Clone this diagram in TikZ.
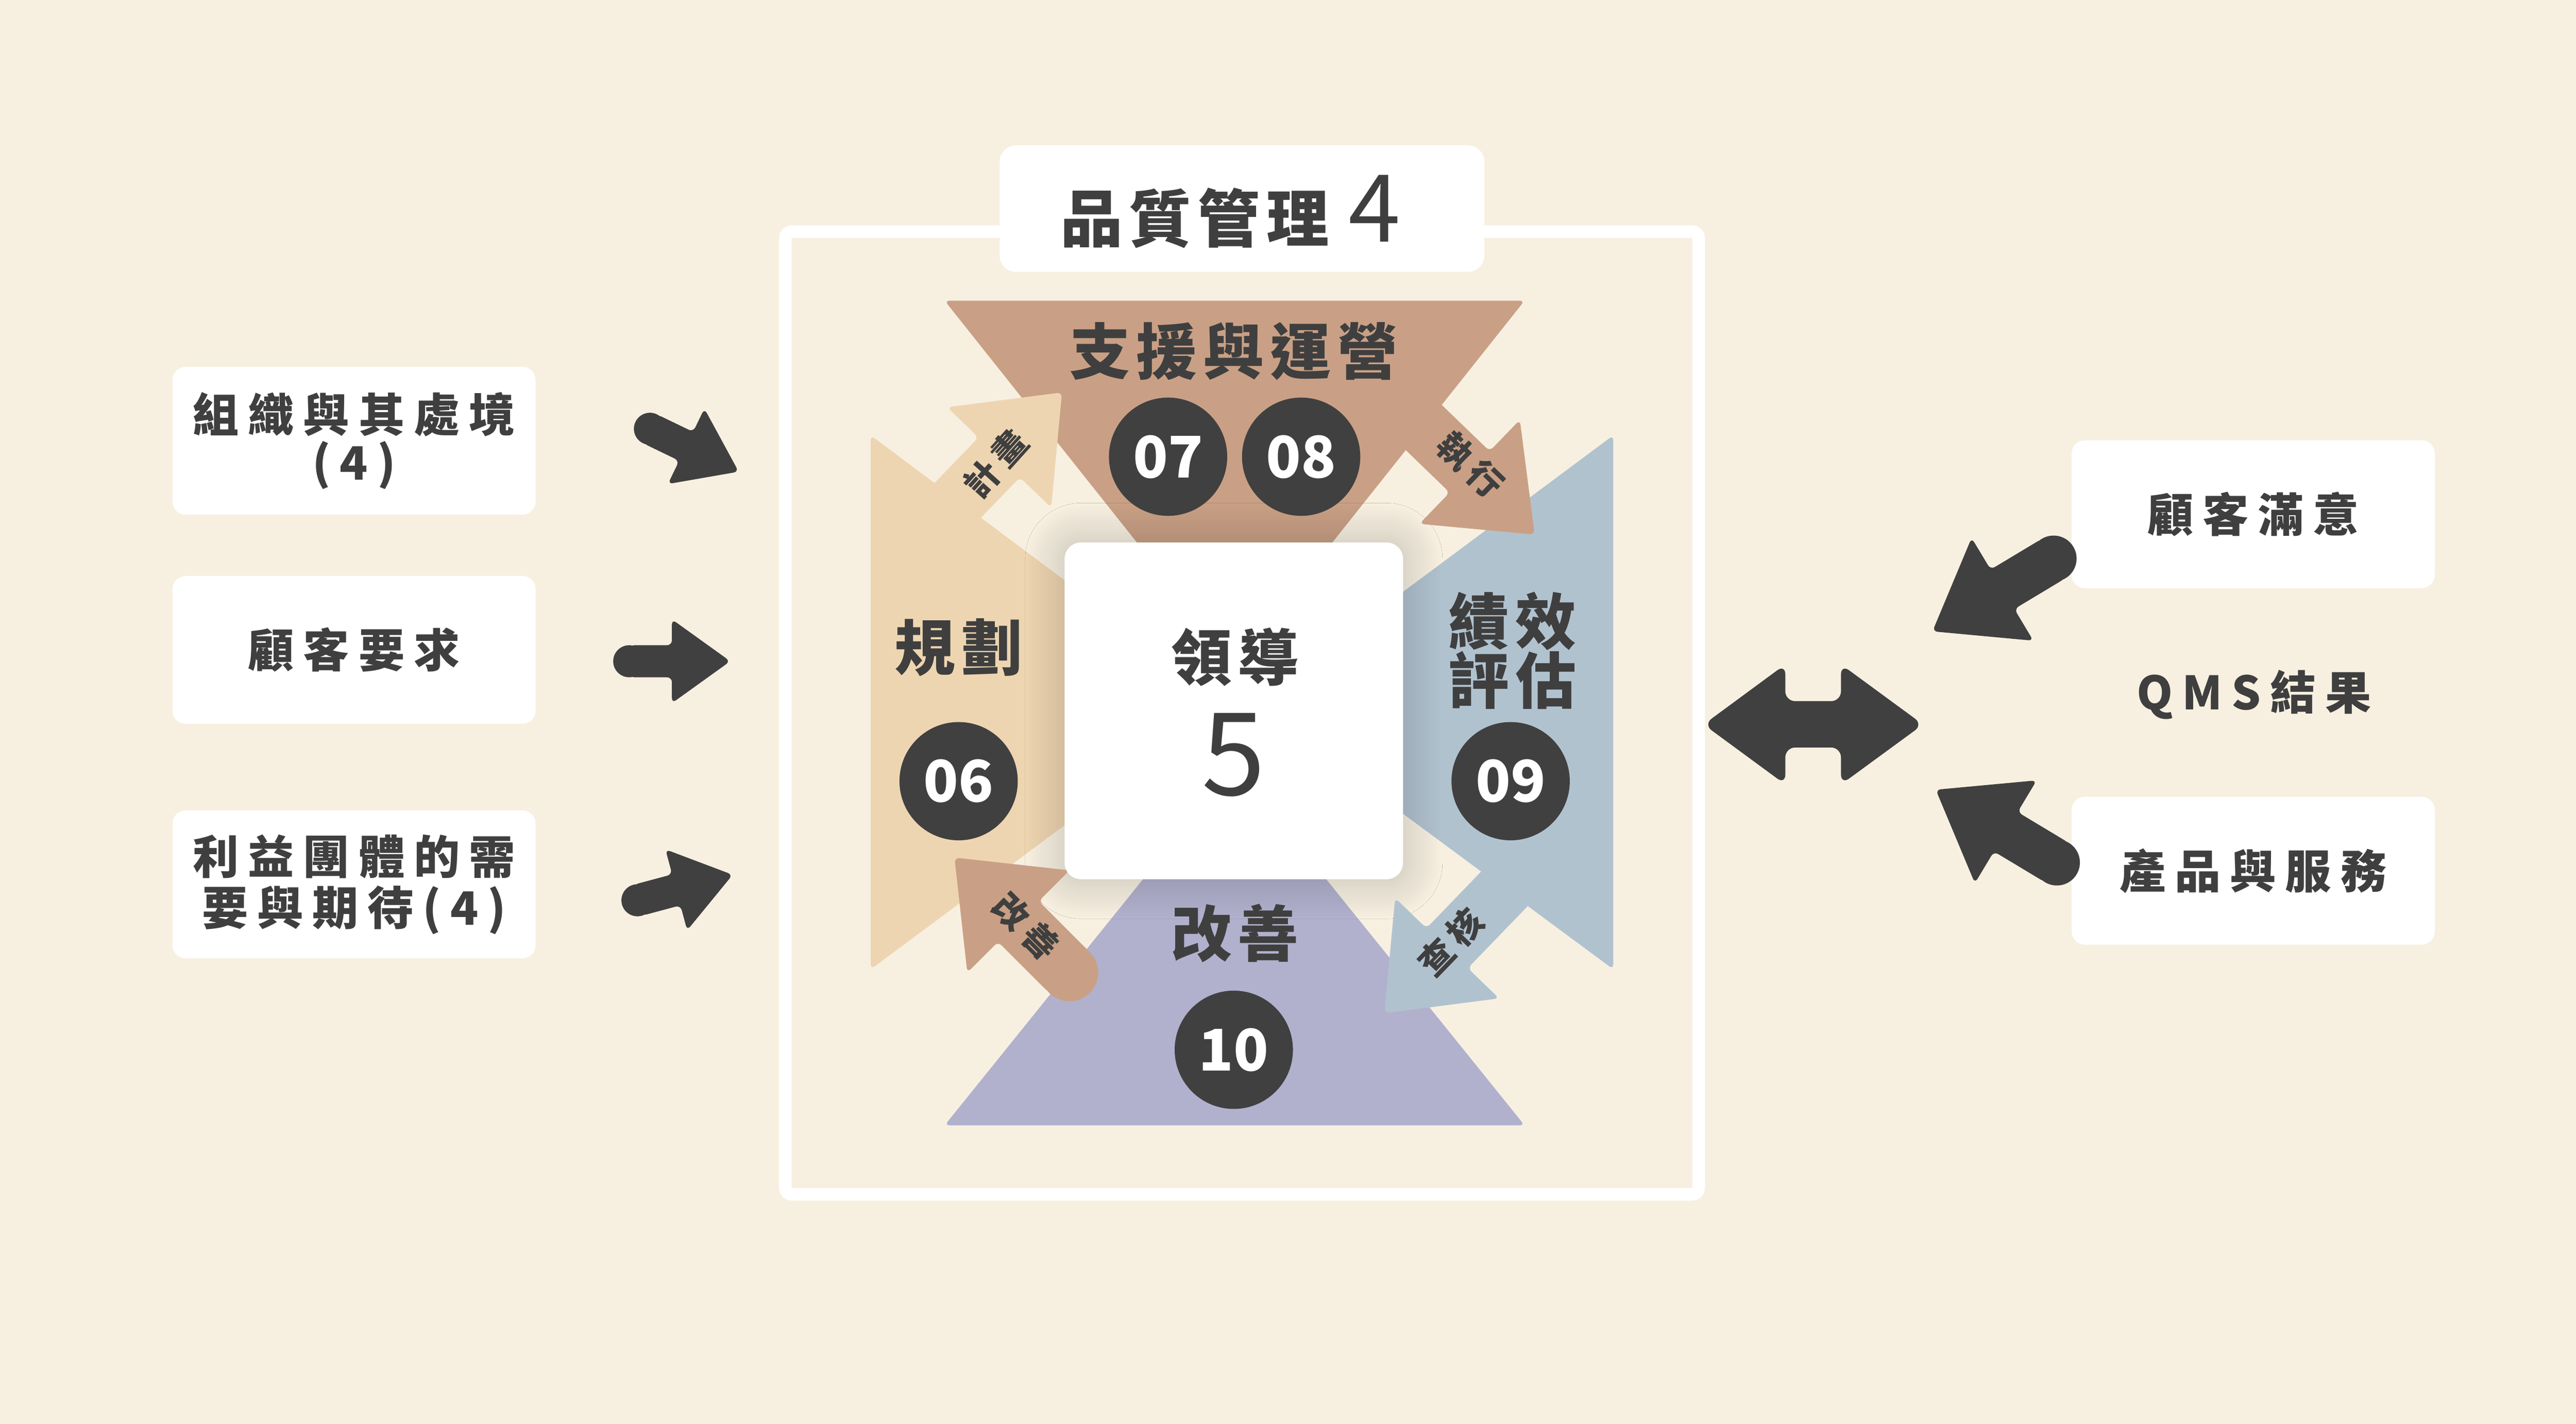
\documentclass[tikz,border=0pt]{standalone}
\usepackage{fontspec}
\setmainfont{Noto Sans CJK TC}
\newfontfamily\widecjk{Noto Sans CJK TC}[LetterSpace=20]
\newfontfamily\midcjk{Noto Sans CJK TC}[LetterSpace=10]
\usetikzlibrary{shadows.blur}

\definecolor{bgcream}{HTML}{F7F0E1}
\definecolor{supporttan}{HTML}{C9A085}
\definecolor{planbeige}{HTML}{EED5B1}
\definecolor{evalblue}{HTML}{B1C2CF}
\definecolor{actlavender}{HTML}{B1B1CE}
\definecolor{darkgrey}{HTML}{404040}
\definecolor{textgrey}{HTML}{3F3F3F}

% fat arrow: colour, tail, angle, length, shaft half width, head half width, head length
\newcommand{\fatarrow}[7]{%
  \begin{scope}[shift={(#2)}, rotate=#3]
    \fill[#1] (0,0) circle[radius=#5];
    \fill[#1, rounded corners=3] (0,-#5) -- ({#4-#7},-#5) -- ({#4-#7},-#6) -- (#4,0)
      -- ({#4-#7},#6) -- ({#4-#7},#5) -- (0,#5) -- cycle;
  \end{scope}}

\begin{document}
\begin{tikzpicture}[x=1pt, y=-1pt,
    inbox/.style={fill=white, rounded corners=8, minimum width=221, minimum height=90,
      text=textgrey, align=center, font=\widecjk\bfseries\fontsize{28}{29}\selectfont},
    clause/.style={text=textgrey, align=center, font=\midcjk\bfseries\fontsize{37}{36}\selectfont},
    num/.style={circle, fill=darkgrey, text=white, minimum size=72, inner sep=0,
      font=\bfseries\fontsize{35}{35}\selectfont},
    small/.style={text=textgrey, font=\widecjk\bfseries\fontsize{21}{21}\selectfont}]

    % Background
    \fill[bgcream] (0,0) rectangle (1568,866.7);
    \useasboundingbox (0,0) rectangle (1568,866.7);

    % Frame and title
    \draw[white, line width=7.6, rounded corners=4] (478,141) rectangle (1034,727);
    \node[fill=white, rounded corners=10, minimum width=295, minimum height=77] (title) at (756,127) {};
    \node[text=textgrey] (titletext) at (749,129)
        {{\midcjk\bfseries\fontsize{38}{38}\selectfont 品質管理}\hspace{12pt}{\fontsize{57}{57}\selectfont 4}};

    % Four clauses
    \fill[supporttan, rounded corners=3] (575,183) -- (928,183) -- (751.5,405) -- cycle;
    \fill[planbeige, rounded corners=3] (530,265) -- (748,428) -- (530,590) -- cycle;
    \fill[evalblue, rounded corners=3] (982,265) -- (763,428) -- (982,590) -- cycle;
    \fill[actlavender, rounded corners=3] (575,685) -- (928,685) -- (751.5,466) -- cycle;

    % Leadership box
    \node[fill=white, rounded corners=10, minimum width=206, minimum height=205,
        blur shadow={shadow xshift=0pt, shadow yshift=0pt, shadow blur radius=24pt,
          shadow blur steps=30, shadow opacity=22}]
        (leadbox) at (751,432.7) {};
    \node[clause] (lead) at (751.7,400) {領導};
    \node[text=textgrey, font=\fontsize{70}{70}\selectfont] (leadno) at (751,459.5) {5};

    % Cycle arrows
    \coordinate (plantail) at (570,318);
    \coordinate (dotail) at (855,249);
    \coordinate (checktail) at (926,530.4);
    \coordinate (acttail) at (651,592);
    \fatarrow{planbeige}{plantail}{46}{110}{17.5}{44}{55}
    \fatarrow{supporttan}{dotail}{-44}{110}{17.5}{44}{55}
    \fatarrow{evalblue}{checktail}{-134}{120}{17.5}{44}{55}
    \fatarrow{supporttan}{acttail}{135}{99}{17.5}{44}{55}

    % Clause labels and numbers
    \node[clause] (support) at (751,214) {支援與運營};
    \node[num] (c07) at (711,278) {07};
    \node[num] (c08) at (792,278) {08};
    \node[clause] (plan) at (583.5,394) {規劃};
    \node[num] (c06) at (583.5,475.5) {06};
    \node[clause] (eval) at (920.6,396) {績效\\評估};
    \node[num] (c09) at (919.5,475.5) {09};
    \node[clause] (improve) at (751.7,568) {改善};
    \node[num] (c10) at (751,639) {10};

    \node[small, rotate=48] (tplan) at (606,282) {計畫};
    \node[small, rotate=-44] (tdo) at (895,283) {執行};
    \node[small, rotate=46] (tcheck) at (883,573.5) {查核};
    \node[small, rotate=-45] (tact) at (624.5,563.7) {改善};

    % Inputs
    \node[inbox] (context) at (215.5,268.3) {組織與其處境\\(4)};
    \node[inbox] (custreq) at (215.5,395.6) {顧客要求};
    \node[inbox] (parties) at (215.5,538.3) {利益團體的需\\[2pt]要與期待(4)};

    \coordinate (in1) at (395.6,261);
    \coordinate (in2) at (383,402.5);
    \coordinate (in3) at (388,548);
    \fatarrow{darkgrey}{in1}{-25.8}{60}{9.75}{25.5}{35.5}
    \fatarrow{darkgrey}{in2}{0}{61.5}{9.75}{25.5}{35.5}
    \fatarrow{darkgrey}{in3}{15}{60}{9.75}{25.5}{35.5}

    % Results
    \node[inbox] (satis) at (1371.5,313) {顧客滿意};
    \node[text=textgrey, font=\widecjk\bfseries\fontsize{28}{29}\selectfont] (qms) at (1372,423) {QMS結果};
    \node[inbox] (product) at (1371.5,530) {產品與服務};

    \coordinate (out1) at (1250,340);
    \coordinate (out2) at (1252,525);
    \fatarrow{darkgrey}{out1}{-149}{86}{14}{36.5}{49.7}
    \fatarrow{darkgrey}{out2}{149}{86}{14}{36.5}{49.7}

    % Two-way arrow
    \coordinate (twoleft) at (1037,441);
    \coordinate (tworight) at (1170.5,441);
    \fill[darkgrey, rounded corners=6] (twoleft) -- (1086.7,404.4) -- (1086.7,426.8) -- (1120.6,426.8)
        -- (1120.6,404.4) -- (tworight) -- (1120.6,477.5) -- (1120.6,455) -- (1086.7,455)
        -- (1086.7,477.5) -- cycle;

\end{tikzpicture}
\end{document}
